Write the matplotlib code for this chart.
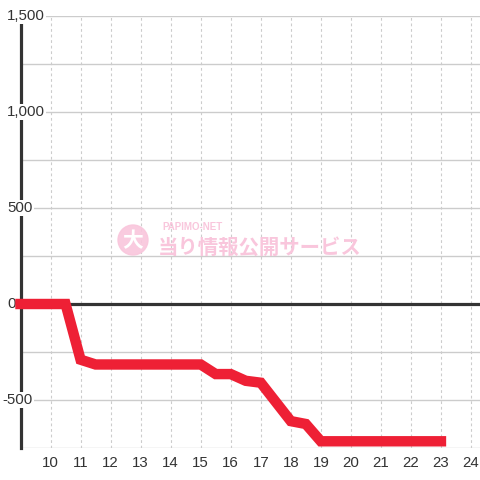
import matplotlib
matplotlib.use("Agg")
import matplotlib.pyplot as plt
import matplotlib.transforms as mtransforms
from matplotlib.patches import Circle

# data
hours = [9, 10.5, 11, 11.5, 15, 15.5, 16, 16.5, 17, 18, 18.5, 19, 23]
diff = [0, 0, -290, -315, -315, -365, -365, -400, -410, -610, -625, -715, -715]
x_ticks = list(range(10, 25))
y_ticks = [-500, 0, 500, 1000, 1500]
y_grid = [-750, -500, -250, 0, 250, 500, 750, 1000, 1250, 1500]

plt.rcParams['font.family'] = ['Liberation Sans', 'DejaVu Sans']

fig = plt.figure(figsize=(4.8, 4.8), dpi=100)
ax = fig.add_axes([20.5 / 480, 32 / 480, 459.5 / 480, 432 / 480])
ax.set_xlim(9, 24.3)
ax.set_ylim(-750, 1500)

# grid
for v in y_grid:
    ax.axhline(v, color='#cccccc', lw=1, zorder=1)
for t in x_ticks:
    ax.axvline(t, color='#cccccc', lw=0.8, ls=(0, (2.5, 2.5)), zorder=1)

ax.axhline(0, color='#333333', lw=2.3, zorder=2)

ax.plot(hours, diff, color='#ee2035', lw=7.5, solid_joinstyle='miter',
        solid_capstyle='projecting', zorder=8, clip_on=False)

for s in ['top', 'right', 'bottom']:
    ax.spines[s].set_visible(False)
ax.spines['left'].set_color('#333333')
ax.spines['left'].set_linewidth(2.3)
ax.spines['left'].set_zorder(4)

ax.set_xticks(x_ticks)
ax.set_xticklabels([str(t) for t in x_ticks], fontsize=10.8, color='#333333')
ax.tick_params(axis='x', length=0, pad=6)
ax.set_yticks([])

trans = mtransforms.blended_transform_factory(fig.transFigure, ax.transData)
for v in y_ticks:
    x0 = 2 if v < 0 else 7
    ax.text(x0 / 480, v, f"{v:,}", transform=trans, ha='left', va='center',
            fontsize=10.8, color='#333333', zorder=6, clip_on=False,
            bbox=dict(facecolor='white', edgecolor='none', pad=1.0))

# watermark
pink = '#f9c6dc'
fig.patches.append(Circle((133 / 480, 1 - 240 / 480), 15 / 480,
                          transform=fig.transFigure, color=pink, alpha=0.9,
                          zorder=5))
fig.text(133 / 480, 1 - 241 / 480, '大', color='white', fontsize=15,
         fontweight='bold', ha='center', va='center',
         family=['Noto Sans CJK JP', 'DejaVu Sans'], zorder=6)
fig.text(162 / 480, 1 - 227 / 480, 'PAPIMO-NET', color=pink, fontsize=7,
         fontweight='bold', ha='left', va='center', zorder=6)
fig.text(158 / 480, 1 - 247 / 480, '当り情報公開サービス', color=pink,
         fontsize=14.7, fontweight='bold', ha='left', va='center',
         family=['Noto Sans CJK JP', 'DejaVu Sans'], zorder=6)

fig.savefig('out.png', dpi=100)
